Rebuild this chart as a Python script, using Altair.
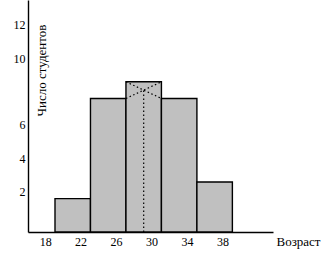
import altair as alt
import pandas as pd

# Histogram of student ages
bin_start = [19, 23, 27, 31, 35]
bin_end = [23, 27, 31, 35, 39]
counts = [2, 8, 9, 8, 3]
x_ticks = [18, 22, 26, 30, 34, 38]
y_ticks = [2, 4, 6, 10, 12]

bars = pd.DataFrame({"x": bin_start, "x2": bin_end, "y": counts})

# Graphical mode construction on the modal bin
m = counts.index(max(counts))
a_l, a_r = bin_start[m], bin_end[m]
f0, f1, f2 = counts[m - 1], counts[m], counts[m + 1]
mode_x = a_l + (a_r - a_l) * (f1 - f0) / ((f1 - f0) + (f1 - f2))
t = (mode_x - a_l) / (a_r - a_l)
mode_y = f1 + (f2 - f1) * t
lines = pd.DataFrame({
    "x": [a_l, a_l, mode_x],
    "y": [f1, f0, 0],
    "x2": [a_r, a_r, mode_x],
    "y2": [f2, f1, mode_y],
})

FONT = "Liberation Serif"
xs = alt.Scale(domain=[15.956, 43.58], nice=False, zero=False)
ys = alt.Scale(domain=[0, 13.9], nice=False, zero=True)

bar_layer = alt.Chart(bars).mark_rect(
    fill="#c0c0c0", stroke="black", strokeWidth=1.4
).encode(
    x=alt.X("x:Q", scale=xs, axis=alt.Axis(
        values=x_ticks, title="Возраст", grid=False, ticks=False,
        labelFont=FONT, labelFontSize=12, labelColor="black",
        labelPadding=4, labelOffset=-1, labelFlush=False,
        domainColor="black", domainWidth=1.4,
        titleFont=FONT, titleFontSize=13, titleFontWeight="normal",
        titleColor="black", titleX=248, titleY=9, titleAlign="left",
        titleBaseline="middle", titleAnchor="start")),
    x2="x2:Q",
    y=alt.Y("y:Q", scale=ys, axis=alt.Axis(
        values=y_ticks, title="Число студентов", grid=False, ticks=False,
        labelFont=FONT, labelFontSize=12, labelColor="black",
        labelPadding=3, labelOffset=-7, labelFlush=False,
        domainColor="black", domainWidth=1.4,
        titleFont=FONT, titleFontSize=13, titleFontWeight="normal",
        titleColor="black", titleX=13, titleY=70, titleAlign="center",
        titleBaseline="middle", titleAngle=270)),
    y2=alt.datum(0),
)

line_layer = alt.Chart(lines).mark_rule(
    color="black", strokeDash=[1.5, 2.5], strokeWidth=1.2
).encode(
    x=alt.X("x:Q", scale=xs),
    x2="x2:Q",
    y=alt.Y("y:Q", scale=ys),
    y2="y2:Q",
)

chart = alt.layer(bar_layer, line_layer).properties(
    width=245, height=232,
    autosize=alt.AutoSizeParams(type="none"),
    padding={"left": 28, "top": 0, "right": 57, "bottom": 22},
    background="white",
).configure_view(stroke=None)

chart.save("out.html", embed_options={"renderer": "svg", "actions": False})
